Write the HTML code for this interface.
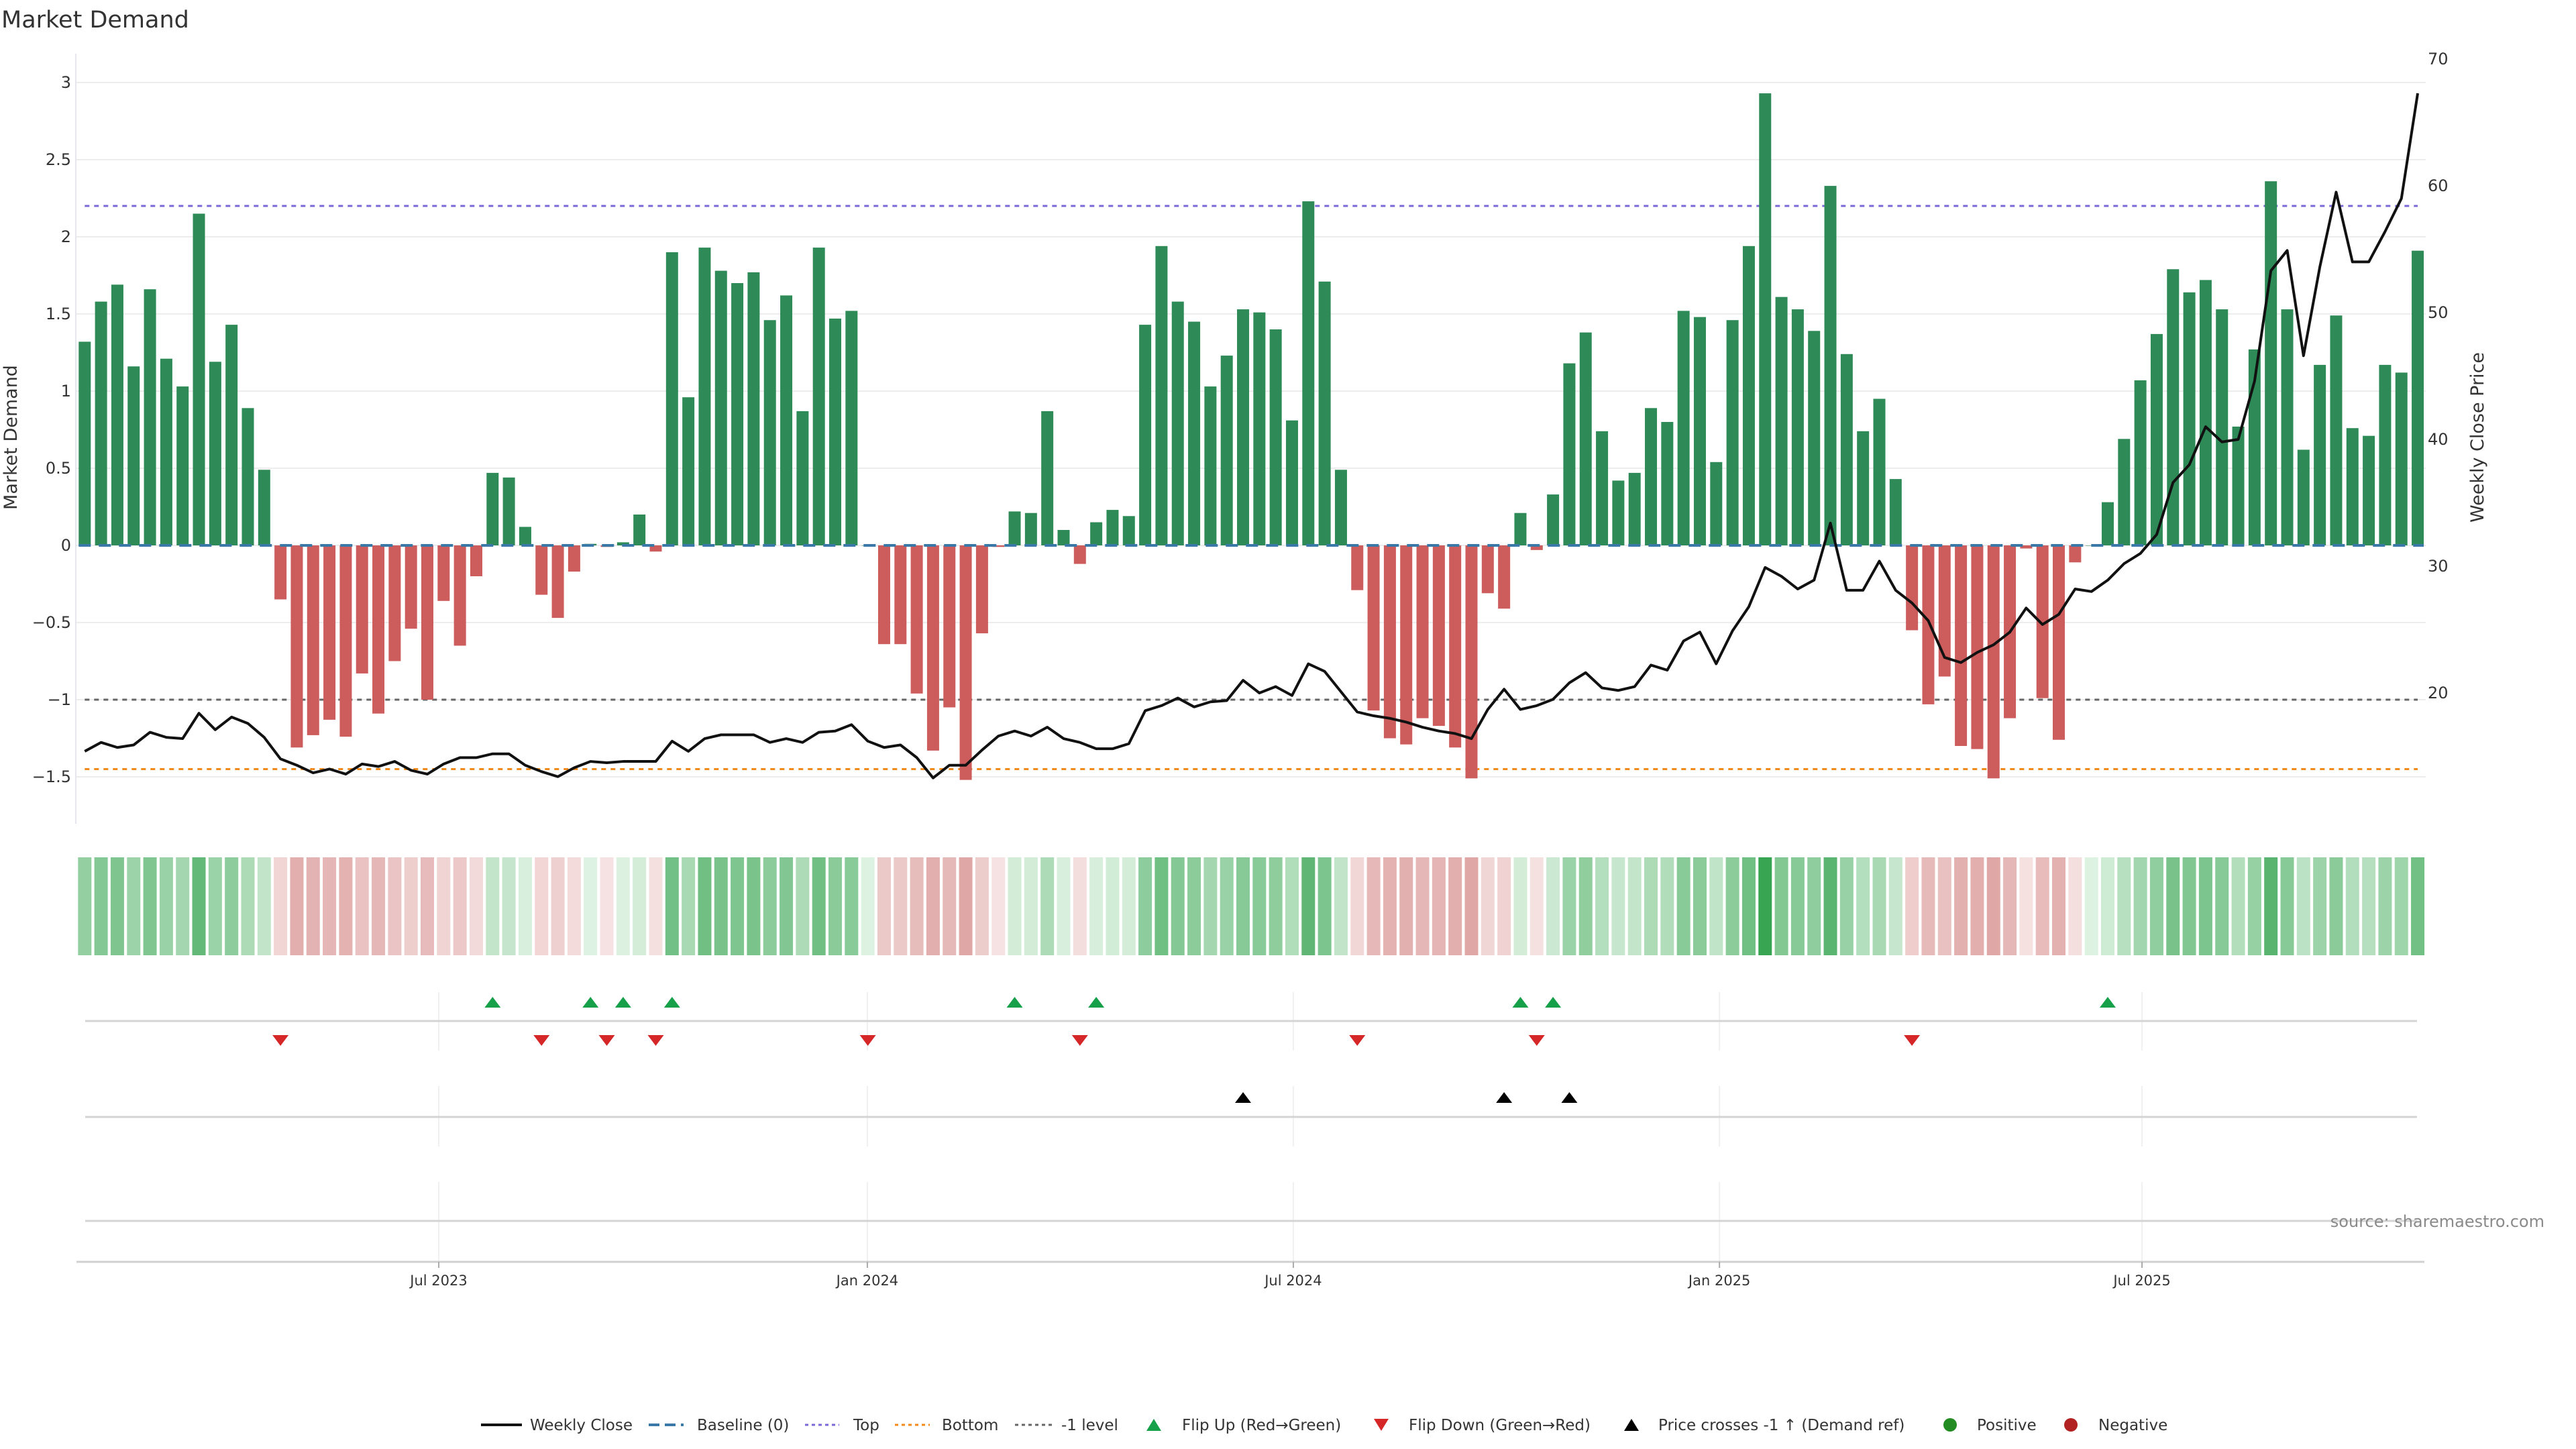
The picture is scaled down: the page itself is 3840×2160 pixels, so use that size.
<!DOCTYPE html>
<html><head><meta charset="utf-8"><title>Market Demand</title>
<style>
html,body{margin:0;padding:0;background:#fff;}
svg{display:block;font-family:"DejaVu Sans","Liberation Sans",sans-serif;}
</style></head>
<body>
<svg id="chart" width="3840" height="2160" viewBox="0 0 3840 2160" xmlns="http://www.w3.org/2000/svg">
<rect width="3840" height="2160" fill="#fff"/>
<text x="2" y="41" font-size="35" fill="#333">Market Demand</text>
<g id="grid"></g>
<g id="refs"></g>
<g id="bars"></g>
<g id="price"></g>
<g id="axes"></g>
<g id="heat"></g>
<g id="markers"></g>
<g id="legend"></g>
<text x="3793" y="1829" font-size="24" fill="#8a8a8a" text-anchor="end">source: sharemaestro.com</text>
</svg>
<script>
const demand = [1.32,1.58,1.69,1.16,1.66,1.21,1.03,2.15,1.19,1.43,0.89,0.49,
-0.35,-1.31,-1.23,-1.13,-1.24,-0.83,-1.09,-0.75,-0.54,-1.0,-0.36,-0.65,-0.2,
0.47,0.44,0.12,-0.32,-0.47,-0.17,0.01,-0.01,0.02,0.2,-0.04,
1.9,0.96,1.93,1.78,1.70,1.77,1.46,1.62,0.87,1.93,1.47,1.52,
0.0,-0.64,-0.64,-0.96,-1.33,-1.05,-1.52,-0.57,-0.01,0.22,0.21,0.87,0.10,-0.12,0.15,0.23,0.19,
1.43,1.94,1.58,1.45,1.03,1.23,1.53,1.51,1.40,0.81,2.23,1.71,0.49,
-0.29,-1.07,-1.25,-1.29,-1.12,-1.17,-1.31,-1.51,-0.31,-0.41,0.21,-0.03,0.33,
1.18,1.38,0.74,0.42,0.47,0.89,0.80,1.52,1.48,0.54,1.46,1.94,2.93,1.61,1.53,1.39,2.33,1.24,0.74,0.95,0.43,
-0.55,-1.03,-0.85,-1.30,-1.32,-1.51,-1.12,-0.02,-0.99,-1.26,-0.11,0.0,
0.28,0.69,1.07,1.37,1.79,1.64,1.72,1.53,0.77,1.27,2.36,1.53,0.62,1.17,1.49,0.76,0.71,1.17,1.12,1.91];
const price = [15.4,16.1,15.7,15.9,16.9,16.5,16.4,18.4,17.1,18.1,17.6,16.5,14.8,14.3,13.7,14.0,13.6,14.4,14.2,14.6,
13.9,13.6,14.4,14.9,14.9,15.2,15.2,14.3,13.8,13.4,14.1,14.6,14.5,14.6,14.6,14.6,16.2,15.4,16.4,16.7,
16.7,16.7,16.1,16.4,16.1,16.9,17.0,17.5,16.2,15.7,15.9,14.9,13.3,14.3,14.3,15.5,16.6,17.0,16.6,17.3,
16.4,16.1,15.6,15.6,16.0,18.6,19.0,19.6,18.9,19.3,19.4,21.0,20.0,20.5,19.8,22.3,21.7,20.1,18.5,18.2,
18.0,17.7,17.3,17.0,16.8,16.4,18.7,20.3,18.7,19.0,19.5,20.8,21.6,20.4,20.2,20.5,22.2,21.8,24.1,24.8,
22.3,24.9,26.8,29.9,29.2,28.2,28.9,33.4,28.1,28.1,30.4,28.1,27.1,25.7,22.8,22.4,23.2,23.8,24.8,26.7,
25.4,26.2,28.2,28.0,28.9,30.2,31.0,32.5,36.6,38.0,41.0,39.8,40.0,44.6,53.3,54.9,46.6,53.6,59.5,54.0,
54.0,56.4,59.0,67.3];
const flipUp = [25,31,33,36,57,62,88,90,124];
const flipDown = [12,28,32,35,48,61,78,89,112];
const crosses = [71,87,91];
const leftTicks = [3,2.5,2,1.5,1,0.5,0,-0.5,-1,-1.5];
const leftTickLabels = ["3","2.5","2","1.5","1","0.5","0","\u22120.5","\u22121","\u22121.5"];
const rightTicks = [70,60,50,40,30,20];
const dateTickPos = [21.7,47.97,74.08,100.2,126.1];
const dateTickLabels = ["Jul 2023","Jan 2024","Jul 2024","Jan 2025","Jul 2025"];
const topLevel = 2.2, bottomLevel = -1.45, minusLevel = -1;

const NS = "http://www.w3.org/2000/svg";
const X = i => 126.3 + i*24.32;
const YL = v => 813 - 230*v;
const YR = p => 1033 - (p-20)*18.9;
function mk(parent, tag, attrs){const e=document.createElementNS(NS,tag);for(const k in attrs)e.setAttribute(k,attrs[k]);document.getElementById(parent).appendChild(e);return e;}

// grid + left ticks
leftTicks.forEach((v,i)=>{
  const g = mk('grid','line',{x1:113,x2:3616,y1:YL(v),y2:YL(v),stroke:'#ededed','stroke-width':2});
  
  
  const t = mk('axes','text',{x:106,y:YL(v)+8,'font-size':24,fill:'#333','text-anchor':'end'});
  t.textContent = leftTickLabels[i];
  
  
});
rightTicks.forEach(p=>{
  const t = mk('axes','text',{x:3619,y:YR(p)+8,'font-size':24,fill:'#333'});
  t.textContent = p;
  
  
});
let ax = mk('axes','line',{x1:113,x2:113,y1:80,y2:1228,stroke:'#e6e6ee','stroke-width':2});


let yt = mk('axes','text',{x:0,y:0,'font-size':27,fill:'#333','text-anchor':'middle',transform:'translate(25,652) rotate(-90)'});
yt.textContent='Market Demand';


let yt2 = mk('axes','text',{x:0,y:0,'font-size':27,fill:'#333','text-anchor':'middle',transform:'translate(3702,652) rotate(-90)'});
yt2.textContent='Weekly Close Price';



// bars
demand.forEach((v,i)=>{
  const y0=YL(0), y1=YL(v);
  const b = mk('bars','rect',{x:X(i)-9,y:Math.min(y0,y1),width:18,height:Math.max(Math.abs(y1-y0),0.5),fill:v>=0?'#2e8b57':'#cd5c5c'});
  
  
});
// reference lines
const N = demand.length;
function ref(v,color,dash,name){
  const l = mk('refs','line',{x1:X(0),x2:X(N-1),y1:YL(v),y2:YL(v),stroke:color,'stroke-width':3,'stroke-dasharray':dash});
  
  
}
ref(topLevel,'#7b68d8','7 7','top-line');
ref(bottomLevel,'#f08a1c','7 7','bottom-line');
ref(minusLevel,'#666','7 7','minus-one-line');
let bl = mk('bars','line',{x1:X(0)-9,x2:X(N-1)+9,y1:YL(0),y2:YL(0),stroke:'#3a78a8','stroke-width':4,'stroke-dasharray':'18 12'});



// price line
const pl = mk('price','polyline',{points:price.map((p,i)=>X(i)+','+YR(p)).join(' '),fill:'none',stroke:'#111','stroke-width':4,'stroke-linejoin':'round'});



// heat strip
function mix(a,b,t){return 'rgb('+a.map((c,k)=>Math.round(c+(b[k]-c)*t)).join(',')+')';}
demand.forEach((v,i)=>{
  const t=Math.min(Math.abs(v)/3,1);
  const col = v>=0 ? mix([222,242,226],[52,163,79],t) : mix([246,226,226],[200,110,108],t);
  const c = mk('heat','rect',{x:X(i)-10,y:1278,width:20,height:146,fill:col});
  
  
});

// marker panels
[[1479,1566],[1619,1709],[1762,1880]].forEach(([a,b])=>{
  dateTickPos.forEach(d=>{
    const g = mk('markers','line',{x1:X(d),x2:X(d),y1:a,y2:b,stroke:'#eef0f2','stroke-width':2});
    
    
  });
});
[1522,1665,1820].forEach(y=>{
  const l = mk('markers','line',{x1:127,x2:3603,y1:y,y2:y,stroke:'#d4d4d4','stroke-width':3});
  
  
});
let xa = mk('markers','line',{x1:114,x2:3614,y1:1881,y2:1881,stroke:'#d0d0d0','stroke-width':3});


dateTickPos.forEach((d,i)=>{
  const tk = mk('markers','line',{x1:X(d),x2:X(d),y1:1881,y2:1890,stroke:'#aaa','stroke-width':2});
  
  
  const t = mk('markers','text',{x:X(d),y:1916,'font-size':21,fill:'#333','text-anchor':'middle'});
  t.textContent = dateTickLabels[i];
  
  
});
function tri(cx,cy,up,color,name){
  const w=12,h=8;
  const pts = up ? `${cx-w},${cy+h} ${cx+w},${cy+h} ${cx},${cy-h}` : `${cx-w},${cy-h} ${cx+w},${cy-h} ${cx},${cy+h}`;
  const p = mk('markers','polygon',{points:pts,fill:color});
  
  
}
flipUp.forEach(i=>tri(X(i),1494,true,'#16a04a','flip-up-marker'));
flipDown.forEach(i=>tri(X(i),1551,false,'#d62728','flip-down-marker'));
crosses.forEach(i=>tri(X(i),1636,true,'#000','price-cross-marker'));
</script>
<svg x="0" y="0" width="0" height="0"></svg>
<script>
// legend
(function(){
  const L = document.getElementById('legend');
  const y = 2124;
  function add(tag,attrs){const e=document.createElementNS("http://www.w3.org/2000/svg",tag);for(const k in attrs)e.setAttribute(k,attrs[k]);L.appendChild(e);return e;}
  function label(x,txt){const t=add('text',{x:x,y:y+8,'font-size':23,fill:'#333'});t.textContent=txt;}
  let e;
  e=add('line',{x1:717,x2:778,y1:y,y2:y,stroke:'#111','stroke-width':4});label(790,'Weekly Close');
  e=add('line',{x1:967,x2:1019,y1:y,y2:y,stroke:'#3a78a8','stroke-width':4,'stroke-dasharray':'16 8'});label(1039,'Baseline (0)');
  e=add('line',{x1:1200,x2:1251,y1:y,y2:y,stroke:'#7b68d8','stroke-width':3,'stroke-dasharray':'5 5'});label(1272,'Top');
  e=add('line',{x1:1334,x2:1386,y1:y,y2:y,stroke:'#f08a1c','stroke-width':3,'stroke-dasharray':'5 5'});label(1404,'Bottom');
  e=add('line',{x1:1513,x2:1570,y1:y,y2:y,stroke:'#666','stroke-width':3,'stroke-dasharray':'5 5'});label(1582,'-1 level');
  e=add('polygon',{points:`1709,${y+9} 1731,${y+9} 1720,${y-9}`,fill:'#16a04a'});label(1762,'Flip Up (Red\u2192Green)');
  e=add('polygon',{points:`2048,${y-9} 2070,${y-9} 2059,${y+9}`,fill:'#d62728'});label(2100,'Flip Down (Green\u2192Red)');
  e=add('polygon',{points:`2421,${y+9} 2443,${y+9} 2432,${y-9}`,fill:'#000'});label(2472,'Price crosses -1 \u2191 (Demand ref)');
  e=add('circle',{cx:2907,cy:y,r:10,fill:'#228b22'});label(2947,'Positive');
  e=add('circle',{cx:3087,cy:y,r:10,fill:'#b22222'});label(3128,'Negative');
})();
</script>
</body></html>
